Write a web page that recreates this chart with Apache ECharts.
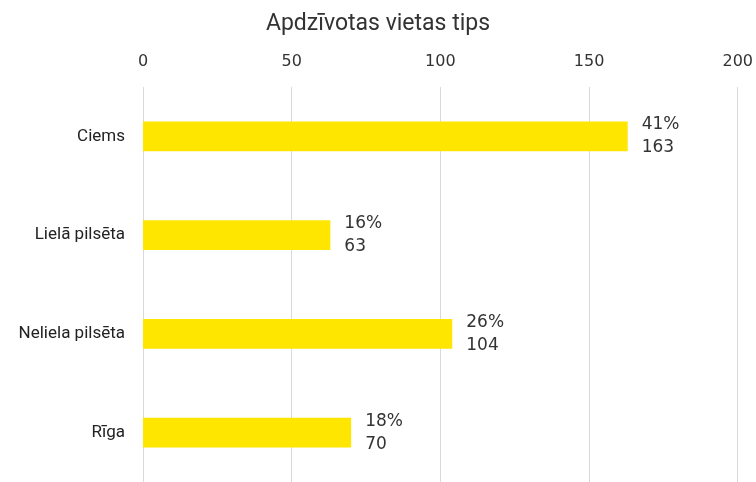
<!DOCTYPE html>
<html>
<head>
<meta charset="utf-8">
<script src="https://cdn.jsdelivr.net/npm/echarts@6/dist/echarts.min.js"></script>
<style>
  html, body { margin: 0; padding: 0; background: #fff; }
  #chart { width: 756px; height: 482px; }
</style>
</head>
<body>
<div id="chart"></div>
<script>
const categories = ['Ciems', 'Lielā pilsēta', 'Neliela pilsēta', 'Rīga']
const counts = [163, 63, 104, 70]
const shares = ['41%', '16%', '26%', '18%']
const xTicks = [0, 50, 100, 150, 200]

const chart = echarts.init(document.getElementById('chart'))

const option = {
  animation: false,
  title: {
    text: 'Apdzīvotas vietas tips',
    left: 'center',
    top: 8,
    textStyle: { fontFamily: 'Roboto', fontSize: 23, fontWeight: 'normal', color: '#333' }
  },
  grid: { left: 143, right: 16, top: 87, height: 400 },
  xAxis: {
    type: 'value',
    position: 'top',
    min: xTicks[0],
    max: xTicks[xTicks.length - 1],
    interval: 50,
    axisLine: { show: false },
    axisTick: { show: false },
    axisLabel: { color: '#333', fontFamily: 'DejaVu Sans', fontSize: 16, margin: 17 },
    splitLine: { lineStyle: { color: '#d9d9d9', width: 1 } }
  },
  yAxis: {
    type: 'category',
    inverse: true,
    data: categories,
    axisLine: { show: false },
    axisTick: { show: false },
    axisLabel: { color: '#222', fontFamily: 'Roboto', fontSize: 17, margin: 18 }
  },
  series: [{
    type: 'bar',
    data: counts,
    barWidth: '30%',
    itemStyle: { color: '#ffe600' },
    label: {
      show: true,
      position: 'right',
      distance: 14,
      align: 'left',
      color: '#333',
      fontFamily: 'DejaVu Sans',
      fontSize: 17,
      lineHeight: 23,
      formatter: (p) => shares[p.dataIndex] + '\n' + p.value
    }
  }]
}

chart.setOption(option)
</script>
</body>
</html>
